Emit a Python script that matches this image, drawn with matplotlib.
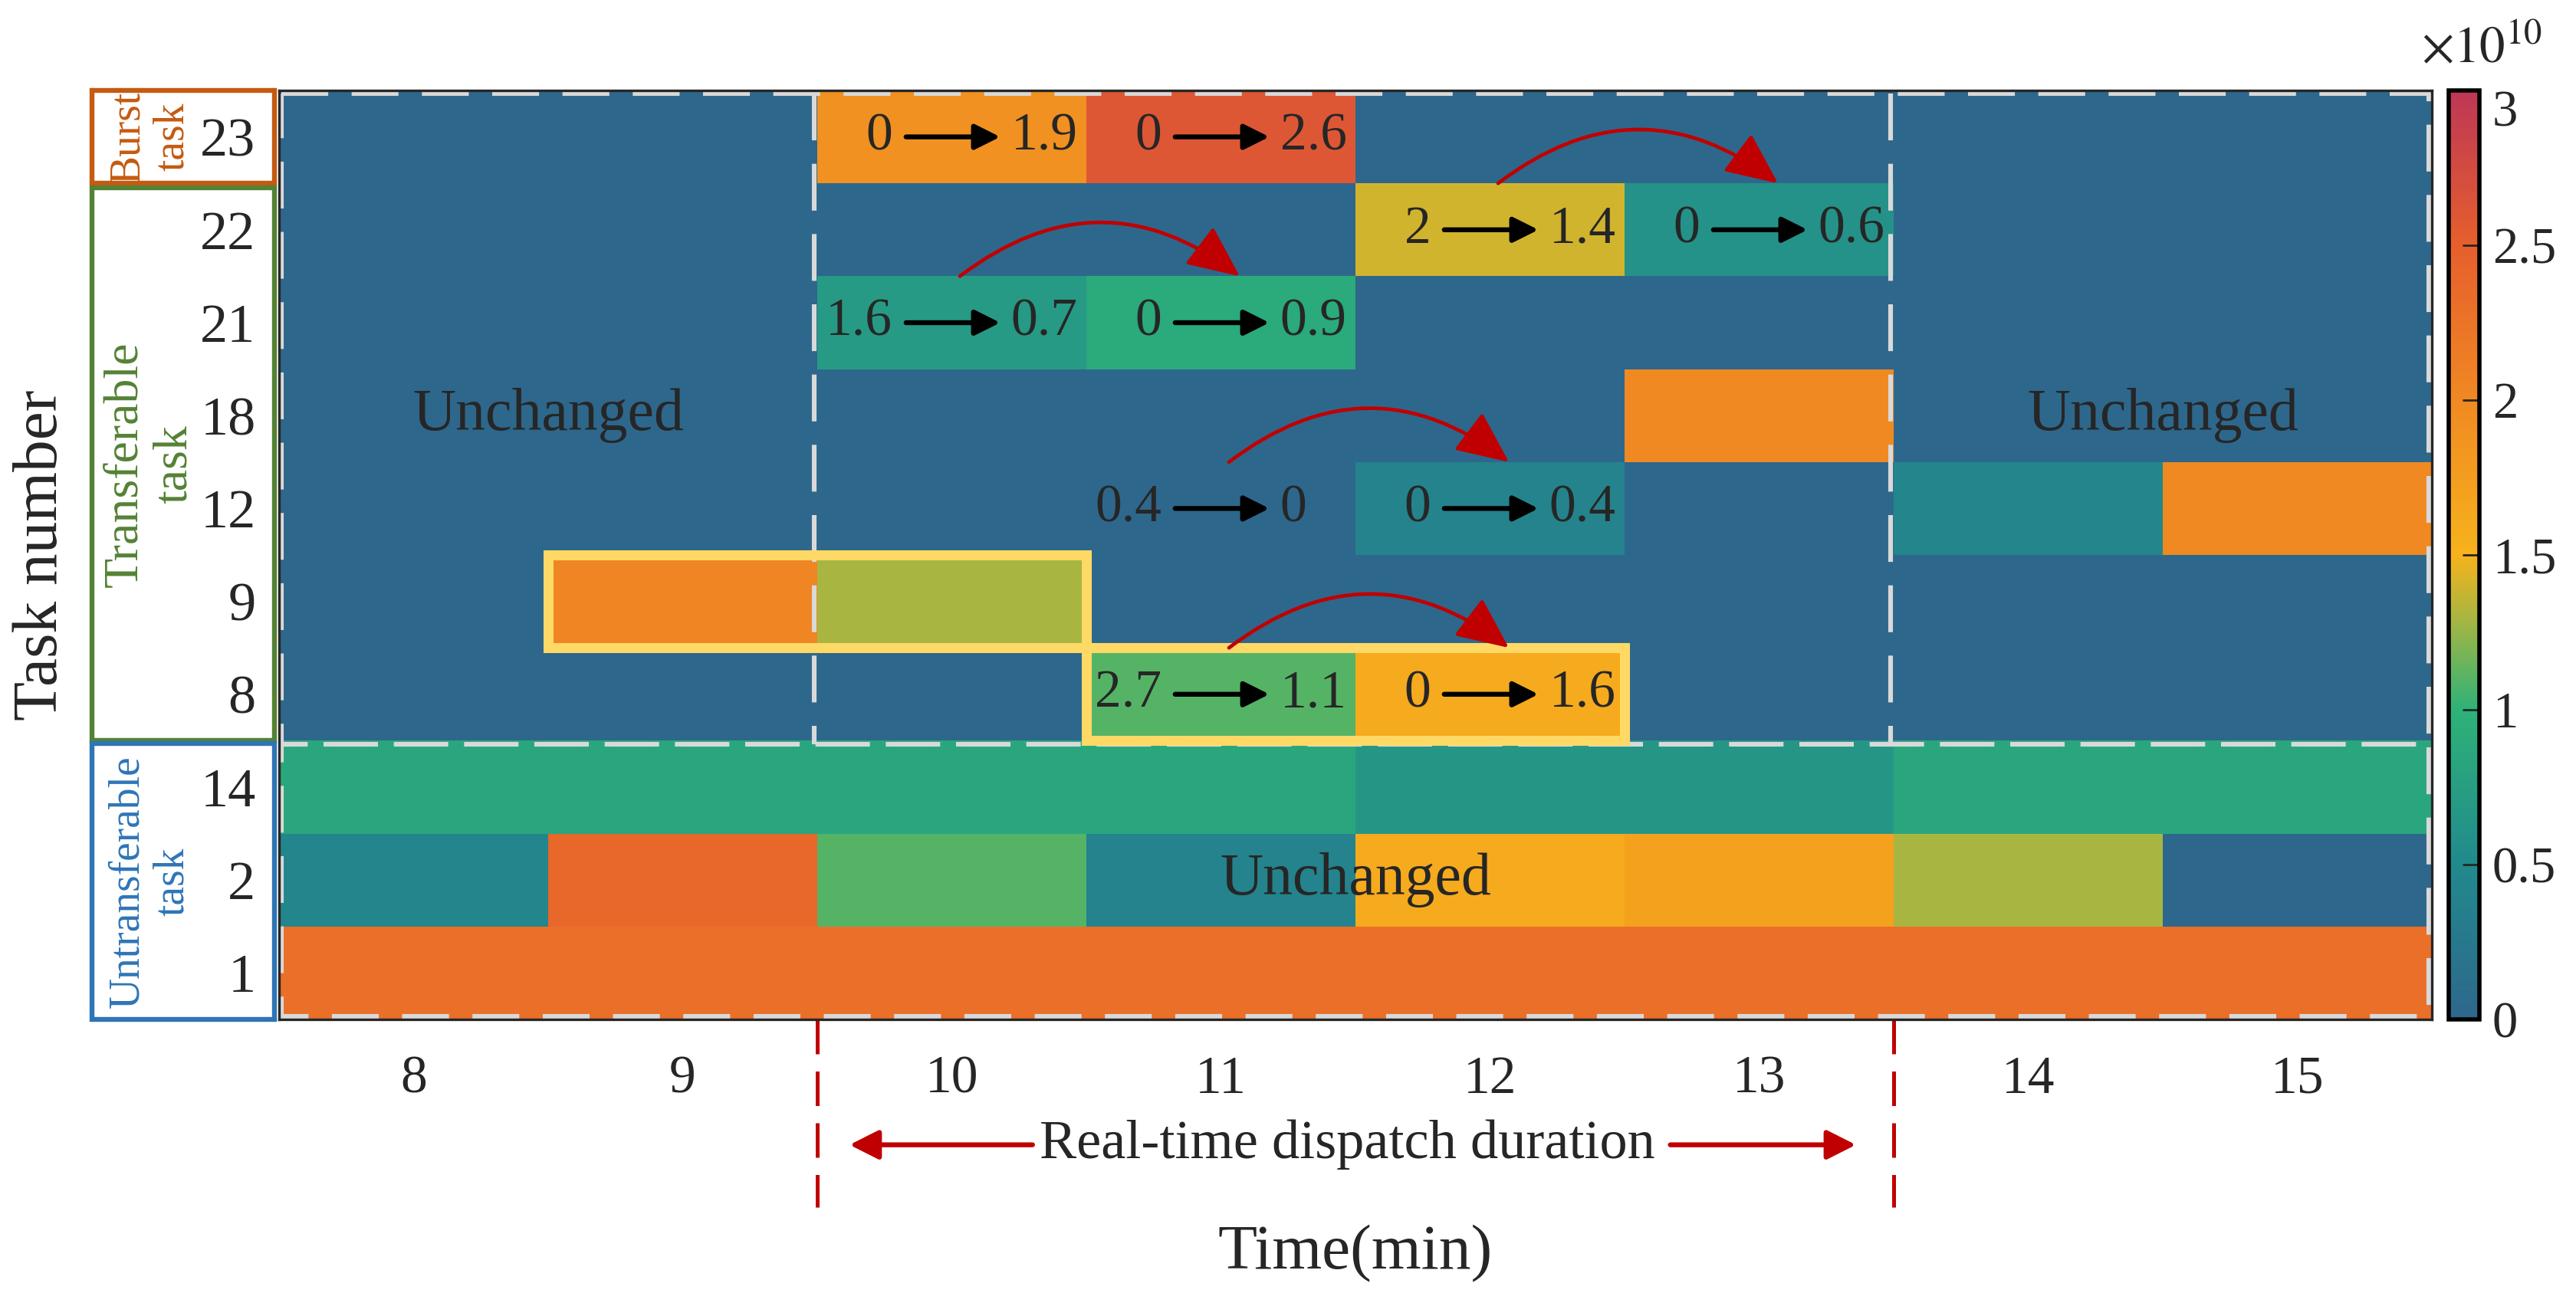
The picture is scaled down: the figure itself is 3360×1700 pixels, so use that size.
import numpy as np
import matplotlib
matplotlib.use('Agg')
import matplotlib.pyplot as plt
from matplotlib.colors import LinearSegmentedColormap
from matplotlib.patches import Rectangle, FancyArrowPatch

plt.rcParams['font.family'] = ['Liberation Serif', 'DejaVu Serif']
plt.rcParams['mathtext.fontset'] = 'stix'

# ---- data (values in units of 1e10) ----
times = [8, 9, 10, 11, 12, 13, 14, 15]
tasks = ['23', '22', '21', '18', '12', '9', '8', '14', '2', '1']  # top -> bottom

task23 = [0, 0, 1.9, 2.6, 0, 0, 0, 0]
task22 = [0, 0, 0, 0, 1.4, 0.6, 0, 0]
task21 = [0, 0, 0.7, 0.9, 0, 0, 0, 0]
task18 = [0, 0, 0, 0, 0, 2.0, 0, 0]
task12 = [0, 0, 0, 0, 0.4, 0, 0.45, 2.0]
task9 = [0, 2.05, 1.3, 0, 0, 0, 0, 0]
task8 = [0, 0, 0, 1.1, 1.6, 0, 0, 0]
task14 = [0.85, 0.85, 0.85, 0.85, 0.65, 0.65, 0.85, 0.85]
task2 = [0.45, 2.4, 1.1, 0.4, 1.6, 1.7, 1.3, 0]
task1 = [2.3, 2.3, 2.3, 2.3, 2.3, 2.3, 2.3, 2.3]

# (time, task, before, after)
transitions = [(10, '23', 0, 1.9), (11, '23', 0, 2.6),
               (12, '22', 2, 1.4), (13, '22', 0, 0.6),
               (10, '21', 1.6, 0.7), (11, '21', 0, 0.9),
               (11, '12', 0.4, 0), (12, '12', 0, 0.4),
               (11, '8', 2.7, 1.1), (12, '8', 0, 1.6)]
# load shifted from one minute to the next (task, from time)
shifts = [('21', 10), ('22', 12), ('12', 11), ('8', 11)]
# highlighted blocks (task, first time, last time)
highlights = [('9', 9, 10), ('8', 11, 12)]
unchanged = [(8.5, '18'), (14.5, '18'), (11.5, '2')]
# label, colour, box bottom, box top, font size
groups = [('Burst\ntask', '#C55A11', 8.5, 9.5, 20),
          ('Transferable\ntask', '#548235', 2.5, 8.45, 23),
          ('Untransferable\ntask', '#2E75B6', -0.5, 2.47, 20)]

Z = np.array([task23, task22, task21, task18, task12, task9, task8,
              task14, task2, task1])[::-1]
row = {t: len(tasks) - 1 - i for i, t in enumerate(tasks)}

cmap = LinearSegmentedColormap.from_list('custom', [
    (0.0, (46/255, 103/255, 140/255)),
    (0.5/3, (33/255, 138/255, 140/255)),
    (1.0/3, (46/255, 178/255, 120/255)),
    (1.3/3, (170/255, 182/255, 64/255)),
    (1.5/3, (247/255, 178/255, 28/255)),
    (2.0/3, (240/255, 137/255, 34/255)),
    (2.5/3, (230/255, 95/255, 45/255)),
    (1.0, (190/255, 55/255, 85/255))])

fig = plt.figure(figsize=(16.8, 8.5))
ax = fig.add_axes([0.10833, 0.21765, 0.83571, 0.71294])
cax = fig.add_axes([0.9506, 0.21765, 0.0119, 0.71294])

xe = np.append(np.array(times) - 0.5, times[-1] + 0.5)
ye = np.arange(-0.5, len(tasks), 1.0)
mesh = ax.pcolormesh(xe, ye, Z, cmap=cmap, vmin=0, vmax=3, zorder=1)
ax.set_xlim(7.5, 15.5)
ax.set_ylim(-0.5, 9.5)

ax.set_xticks(times)
ax.set_xticklabels([str(t) for t in times])
ax.set_yticks(range(len(tasks)))
ax.set_yticklabels(tasks[::-1])
ax.tick_params(axis='x', length=0, labelsize=25, pad=17, colors='#262626')
ax.tick_params(axis='y', length=0, labelsize=26, pad=11, colors='#262626')
for s in ax.spines.values():
    s.set_color('#262626')
    s.set_linewidth(1.2)

# gray dashed frames
dash = dict(color='#D9D9D9', lw=2.2, zorder=2)
ax.plot([7.51, 15.49, 15.49, 7.51, 7.51], [9.47, 9.47, 2.46, 2.46, 9.47],
        linestyle=(0, (10, 5)), **dash)
ax.plot([7.51, 15.49, 15.49, 7.51, 7.51], [2.46, 2.46, -0.47, -0.47, 2.46],
        linestyle=(6, (10, 5)), **dash)
for xv in [9.5, 13.5]:
    ax.plot([xv - 0.01, xv - 0.01], [9.47, 2.46], linestyle=(0, (10, 5)), **dash)

# yellow highlight boxes
for task, t0, t1 in highlights:
    ax.add_patch(Rectangle((t0 - 0.5, row[task] - 0.5), t1 - t0 + 1, 1,
                           fill=False, ec='#FFD966', lw=4.7, zorder=3))

def fmt(v):
    return f'{v:g}'

for t, task, a, b in transitions:
    y = row[task]
    ax.text(t - 0.22, y, fmt(a), ha='right', va='center', size=25,
            color='#262626', zorder=4)
    ax.text(t + 0.22, y, fmt(b), ha='left', va='center', size=25,
            color='#262626', zorder=4)
    ax.add_patch(FancyArrowPatch((t - 0.17, y), (t + 0.18, y),
                                 arrowstyle='-|>,head_length=0.5,head_width=0.25',
                                 mutation_scale=20, lw=2.3, color='black',
                                 shrinkA=0, shrinkB=0, zorder=5))

for task, t0 in shifts:
    y = row[task] + 0.5
    ax.add_patch(FancyArrowPatch((t0 + 0.03, y), (t0 + 1.07, y),
                                 connectionstyle='arc3,rad=-0.38',
                                 arrowstyle='-|>,head_length=2.1,head_width=0.95',
                                 mutation_scale=10, lw=1.7, color='#C00000',
                                 shrinkA=0, shrinkB=0, zorder=5))

for x, task in unchanged:
    ax.text(x, row[task], 'Unchanged', ha='center', va='center', size=28,
            color='#262626', zorder=4)

# group boxes on the left
for label, col, y0, y1, fs in groups:
    ax.add_patch(Rectangle((6.805, y0), 0.678, y1 - y0, fill=False, ec=col,
                           lw=2.3, clip_on=False, zorder=6))
    ax.text(7.02, (y0 + y1) / 2, label, rotation=90, ha='center', va='center',
            size=fs, color=col, linespacing=1.15, clip_on=False)

# real-time dispatch window below the axis
for xv in [9.5, 13.5]:
    ax.plot([xv, xv], [-0.5, -2.52], color='#C00000', lw=1.8,
            linestyle=(0, (9, 4.5)), clip_on=False)
ax.text(11.47, -1.85, 'Real-time dispatch duration', ha='center', va='center',
        size=26, color='#262626', clip_on=False)
for xa, xb in [(10.3, 9.62), (12.67, 13.36)]:
    ax.add_patch(FancyArrowPatch((xa, -1.85), (xb, -1.85),
                                 arrowstyle='-|>,head_length=1.15,head_width=0.58',
                                 mutation_scale=10, lw=2.3, color='#C00000',
                                 shrinkA=0, shrinkB=0, clip_on=False))

fig.text(0.016, 0.574, 'Task number', rotation=90, ha='center', va='center',
         size=30, color='#262626')
fig.text(0.526, 0.038, 'Time(min)', ha='center', va='center', size=30,
         color='#262626')

cb = fig.colorbar(mesh, cax=cax, ticks=np.arange(0, 3.01, 0.5))
cb.ax.set_yticklabels(['0', '0.5', '1', '1.5', '2', '2.5', '3'])
cb.ax.tick_params(direction='in', length=8, width=1, labelsize=24, pad=6,
                  colors='#262626')
cb.ax.get_yticklabels()[-1].set_verticalalignment('top')
cb.outline.set_linewidth(2)
cb.outline.set_edgecolor('black')
fig.text(0.940, 0.962, r'$\times 10^{10}$', ha='left', va='center', size=24,
         color='#262626')

fig.savefig('out.png', dpi=200)
